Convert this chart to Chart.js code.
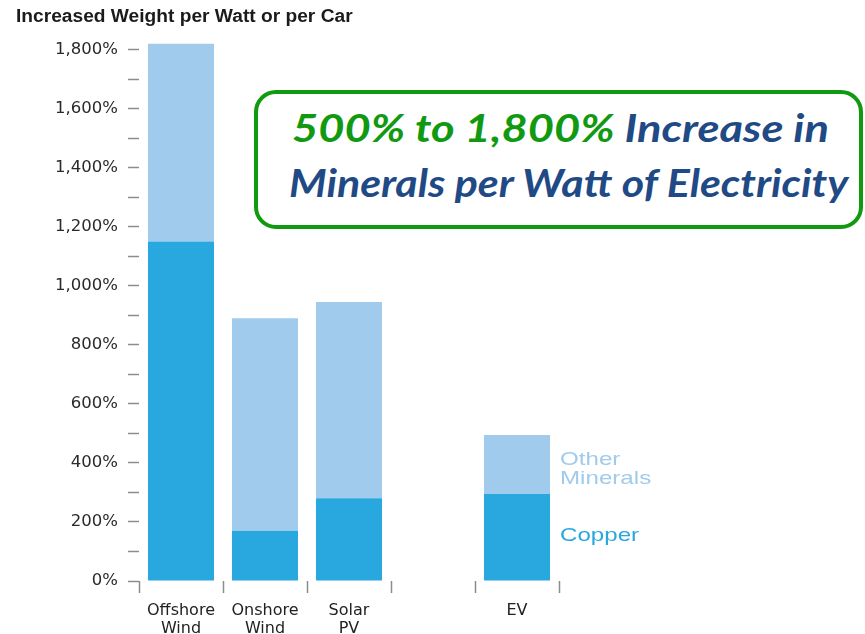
<!DOCTYPE html>
<html>
<head>
<meta charset="utf-8">
<script src="https://cdn.jsdelivr.net/npm/chart.js@4"></script>
<style>
  html, body { margin: 0; padding: 0; background: #fff; }
  .wrap { position: relative; width: 865px; height: 634px; overflow: hidden; }
  canvas { position: absolute; left: 0; top: 0; }
  .title {
    position: absolute; left: 16px; top: 6px; line-height: 21px;
    font: bold 18px "Liberation Sans", Arial, sans-serif; color: #1b1b1b;
    transform: scaleX(1.065); transform-origin: 0 0; white-space: nowrap;
  }
  .callout {
    position: absolute; left: 254px; top: 90px; width: 601px; height: 131px;
    border: 4px solid #0f9a0f; border-radius: 22px; background: #fff;
    font: italic bold 39px Lato, sans-serif; line-height: 47px; color: #1f4a85;
    box-sizing: content-box;
  }
  .callout div { position: absolute; white-space: nowrap; transform-origin: 0 0; }
  .callout .l1 { left: 34px; top: 10px; transform: scaleX(1.16); }
  .callout .l2 { left: 31px; top: 65px; transform: scaleX(1.1); }
  .callout .hi { color: #119a11; }
</style>
</head>
<body>
<div class="wrap">
  <canvas id="chart" width="865" height="634"></canvas>
  <div class="title">Increased Weight per Watt or per Car</div>
  <div class="callout">
    <div class="l1"><span class="hi">500% to 1,800%</span> Increase in</div>
    <div class="l2">Minerals per Watt of Electricity</div>
  </div>
</div>
<script>
// categories (the blank slot leaves a gap before EV)
const categories = [['Offshore', 'Wind'], ['Onshore', 'Wind'], ['Solar', 'PV'], '', 'EV'];
// percent increase, split by mineral
const copper        = [1150, 170, 280, null, 295];
const otherMinerals = [670, 720, 665, null, 200];
// y axis marks every 100%, labelled every 200%
const yTickValues = [0, 100, 200, 300, 400, 500, 600, 700, 800, 900,
                     1000, 1100, 1200, 1300, 1400, 1500, 1600, 1700, 1800];

const COPPER = '#29a8e0';
const OTHER  = '#a0cbec';
const AXIS_FONT = '"DejaVu Sans", Verdana, sans-serif';

// series names written beside the EV bar instead of a legend box
const sideLabels = {
  id: 'sideLabels',
  afterDatasetsDraw(chart) {
    const ctx = chart.ctx;
    const last = categories.length - 1;
    ctx.save();
    ctx.font = '19px "Liberation Sans", Arial, sans-serif';
    ctx.textAlign = 'left';
    ctx.textBaseline = 'alphabetic';
    chart.data.datasets.forEach((ds, i) => {
      const bar = chart.getDatasetMeta(i).data[last];
      const x = bar.x + bar.width / 2 + 10;
      const mid = (bar.y + bar.base) / 2;
      const lines = ds.label.split(' ');
      const first = lines.length > 1 ? mid + 0.5 : mid + 4;
      ctx.fillStyle = ds.backgroundColor;
      lines.forEach((t, k) => {
        ctx.save();
        ctx.translate(x, first + k * 19);
        ctx.scale(1.27, 1);
        ctx.fillText(t, 0, 0);
        ctx.restore();
      });
    });
    ctx.restore();
  }
};

new Chart(document.getElementById('chart'), {
  type: 'bar',
  data: {
    labels: categories,
    datasets: [
      { label: 'Copper', data: copper, backgroundColor: COPPER },
      { label: 'Other Minerals', data: otherMinerals, backgroundColor: OTHER },
    ],
  },
  options: {
    responsive: false,
    animation: false,
    layout: { padding: { left: 0, right: 306, top: 35, bottom: 0 } },
    datasets: { bar: { categoryPercentage: 1, barPercentage: 0.786 } },
    plugins: { legend: { display: false }, tooltip: { enabled: false } },
    scales: {
      x: {
        stacked: true,
        border: { display: false },
        grid: { drawOnChartArea: false, tickLength: 12, tickColor: '#8c8c8c', tickWidth: 1.5 },
        ticks: {
          color: '#222',
          padding: 9,
          maxRotation: 0,
          autoSkip: false,
          font: { family: AXIS_FONT, size: 16, lineHeight: 1.125 },
        },
        afterFit: s => { s.height = 53; },
      },
      y: {
        stacked: true,
        min: 0,
        max: 1850,
        border: { display: false },
        grid: { drawOnChartArea: false, tickLength: 11, tickColor: '#8c8c8c', tickWidth: 1.5 },
        ticks: {
          color: '#2a2a2a',
          padding: 10,
          font: { family: AXIS_FONT, size: 16.5 },
          callback: v => v % 200 === 0 ? v.toLocaleString('en-US') + '%' : '',
        },
        afterBuildTicks: s => { s.ticks = yTickValues.map(value => ({ value })); },
        afterFit: s => { s.width = 139; },
      },
    },
  },
  plugins: [sideLabels],
});
</script>
</body>
</html>
